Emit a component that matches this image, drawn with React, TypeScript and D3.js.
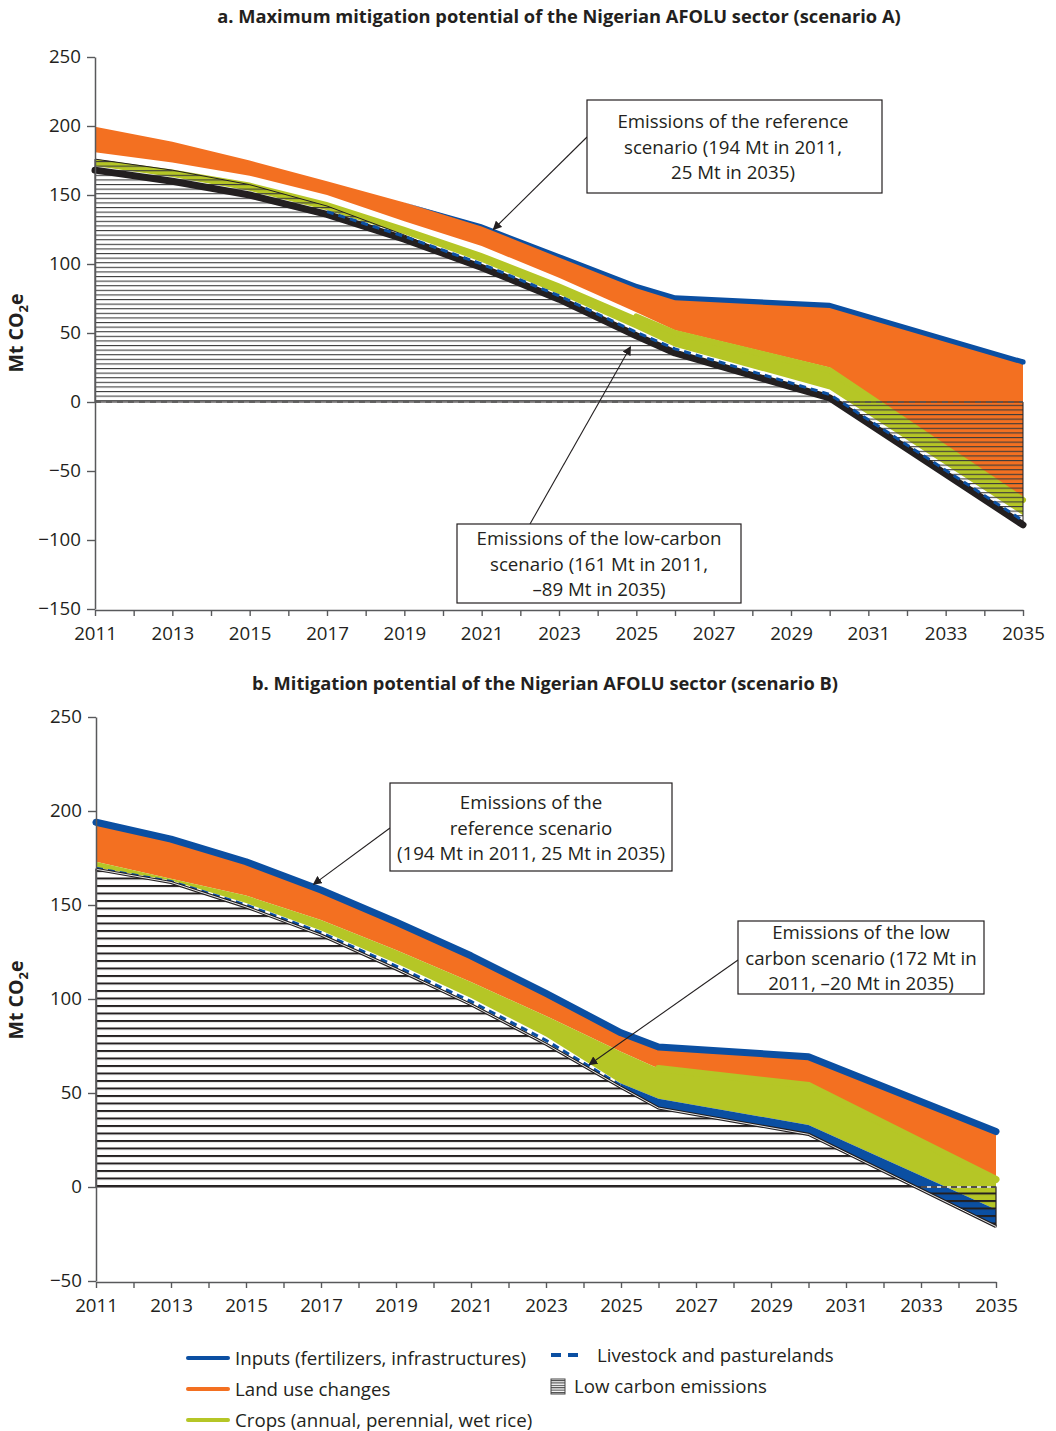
import React, { useEffect, useRef } from "react";
import * as d3 from "d3";

const years = [2011, 2013, 2015, 2017, 2019, 2021, 2023, 2025, 2026, 2030, 2035];

// scenario A (Mt CO2e)
const refA = [199.5, 188.5, 175, 160, 144.5, 128, 106, 84, 75.5, 70, 29];
const inputsA = [0, 0, 0, 0, 0, 1.5, 2.6, 3.3, 3.6, 3.8, 3.8];
const landUseBottomA = [181, 173.5, 164, 150, 131, 113, 90, 65, 52, 25, -70];
const cropsTopA = [176, 168.5, 159, 145, 127, 108, 86, 62, 50, 23, -71];
const cropsBottomA = [171, 163, 153, 139, 121.5, 101.5, 78, 53, 40, 9, -82];
const livestockA = [170, 162, 152, 138, 120, 100, 77, 50.5, 38.5, 5.5, -86];
const lowCarbonA = [168, 160, 150, 136, 118, 97.5, 74.5, 48, 35.5, 3, -89];
const hatchTopA = [176, 168, 157.5, 142, 121, 97.5, 74.5, 48, 35.5, 3, -89];

// scenario B (Mt CO2e)
const refB = [194, 185, 173, 158, 141, 123, 103, 82, 74.5, 69.3, 29.5];
const cropsTopB = [173, 164, 155, 142, 126, 109, 91, 72, 63, 54, 4];
const cropsBottomB = [170, 163, 151, 136.5, 119, 100.5, 80, 55, 47, 33, -12];
const livestockB = [169.5, 162.5, 150, 135.3, 117.5, 98.7, 78, 54, 44.5, 30.5, -16.5];
const lowCarbonB = [169, 162, 149, 134, 116, 97, 76, 53, 42, 28, -21];

const yTicksA = [-150, -100, -50, 0, 50, 100, 150, 200, 250];
const yTicksB = [-50, 0, 50, 100, 150, 200, 250];

const BLUE = "#0b4fa2";
const ORANGE = "#f37021";
const GREEN = "#b5c626";
const INK = "#231f20";
const FONT = "'Open Sans', 'Noto Sans', sans-serif";
const FS = "18.7px";

export default function App() {
  const ref = useRef(null);

  useEffect(() => {
    const svg = d3.select(ref.current);
    svg.selectAll("*").remove();

    const defs = svg.append("defs");
    const hatch = (id, h, lw, color) => {
      const p = defs
        .append("pattern")
        .attr("id", id)
        .attr("patternUnits", "userSpaceOnUse")
        .attr("width", 10)
        .attr("height", h);
      p.append("rect").attr("x", 0).attr("y", 0).attr("width", 10).attr("height", lw).attr("fill", color);
    };
    hatch("hatchA", 4.6, 1.1, "#3b3b3b");
    hatch("hatchB", 7.5, 2, INK);
    hatch("hatchL", 2.4, 1.1, "#444");

    defs
      .append("marker")
      .attr("id", "arrow")
      .attr("viewBox", "0 0 10 10")
      .attr("refX", 9)
      .attr("refY", 5)
      .attr("markerWidth", 9)
      .attr("markerHeight", 9)
      .attr("markerUnits", "userSpaceOnUse")
      .attr("orient", "auto")
      .append("path")
      .attr("d", "M0,0 L10,5 L0,10 Z")
      .attr("fill", INK);

    const idx = d3.range(years.length);

    // ---------- shared axis drawing ----------
    function axes(g, x, y, yTicks, x0, yBottom, labelY) {
      const ya = g
        .append("g")
        .attr("transform", `translate(${x0},0)`)
        .call(d3.axisLeft(y).tickValues(yTicks).tickSize(8).tickSizeOuter(0).tickPadding(6));
      const xa = g
        .append("g")
        .attr("transform", `translate(0,${yBottom})`)
        .call(
          d3
            .axisBottom(x)
            .tickValues(d3.range(2011, 2036))
            .tickSize(6)
            .tickSizeOuter(0)
            .tickPadding(11)
            .tickFormat((d) => ((d - 2011) % 2 === 0 ? String(d) : ""))
        );
      [ya, xa].forEach((a) => {
        a.select(".domain").attr("stroke", "#58595b").attr("stroke-width", 1.5);
        a.selectAll(".tick line").attr("stroke", "#58595b").attr("stroke-width", 1.4);
        a.selectAll("text").attr("fill", INK).style("font-family", FONT).style("font-size", FS);
      });

      const t = g
        .append("text")
        .attr("transform", `translate(23,${labelY}) rotate(-90)`)
        .attr("text-anchor", "middle")
        .attr("fill", INK)
        .style("font-family", FONT)
        .style("font-size", "19.5px")
        .style("font-weight", "bold");
      t.append("tspan").text("Mt CO");
      t.append("tspan").attr("dy", 5).style("font-size", "13px").text("2");
      t.append("tspan").attr("dy", -5).text("e");
    }

    function box(g, x0, y0, w, h, lines, cx, firstBase) {
      g.append("rect")
        .attr("x", x0)
        .attr("y", y0)
        .attr("width", w)
        .attr("height", h)
        .attr("fill", "white")
        .attr("stroke", INK)
        .attr("stroke-width", 1.2);
      lines.forEach((l, i) => {
        g.append("text")
          .attr("x", cx)
          .attr("y", firstBase + i * 25.6)
          .attr("text-anchor", "middle")
          .attr("fill", INK)
          .style("font-family", FONT)
          .style("font-size", FS)
          .text(l);
      });
    }

    function arrow(g, x1, y1, x2, y2) {
      g.append("line")
        .attr("x1", x1)
        .attr("y1", y1)
        .attr("x2", x2)
        .attr("y2", y2)
        .attr("stroke", INK)
        .attr("stroke-width", 1.1)
        .attr("marker-end", "url(#arrow)");
    }

    function title(text, cx, yb) {
      svg
        .append("text")
        .attr("x", cx)
        .attr("y", yb)
        .attr("text-anchor", "middle")
        .attr("fill", INK)
        .style("font-family", FONT)
        .style("font-size", "18.3px")
        .style("font-weight", "bold")
        .text(text);
    }

    // ================= PANEL A =================
    const xA = d3.scaleLinear().domain([2011, 2035]).range([95, 1023]);
    const yA = d3.scaleLinear().domain([-150, 250]).range([609, 57]);
    const gA = svg.append("g");
    const px = (i) => xA(years[i]);

    const areaA = (top, bot, def = () => true) =>
      d3.area().defined(def).x(px).y0((i) => yA(bot[i])).y1((i) => yA(top[i]));
    const lineA = (vals, def = () => true) => d3.line().defined(def).x(px).y((i) => yA(vals[i]));

    gA.append("path").attr("d", areaA(refA, landUseBottomA)(idx)).attr("fill", ORANGE);
    gA.append("path").attr("d", areaA(cropsTopA, cropsBottomA)(idx)).attr("fill", GREEN);
    gA.append("path")
      .attr("d", lineA(cropsTopA, (i) => i >= 7)(idx))
      .attr("fill", "none")
      .attr("stroke", GREEN)
      .attr("stroke-width", 6)
      .attr("stroke-linecap", "round");
    // hatched low carbon emissions
    const zeroA = years.map(() => 0);
    gA.append("path")
      .attr("d", areaA(hatchTopA, zeroA)(idx))
      .attr("fill", "url(#hatchA)")
      .attr("stroke", INK)
      .attr("stroke-width", 1);
    gA.append("line")
      .attr("x1", xA(2011))
      .attr("x2", xA(2035))
      .attr("y1", yA(0))
      .attr("y2", yA(0))
      .attr("stroke", "#555")
      .attr("stroke-width", 1.3)
      .attr("stroke-dasharray", "6 5");
    gA.append("path")
      .attr("d", lineA(lowCarbonA)(idx))
      .attr("fill", "none")
      .attr("stroke", INK)
      .attr("stroke-width", 7)
      .attr("stroke-linecap", "round")
      .attr("stroke-linejoin", "round");
    gA.append("path")
      .attr("d", lineA(livestockA, (i) => i >= 3)(idx))
      .attr("fill", "none")
      .attr("stroke", BLUE)
      .attr("stroke-width", 3)
      .attr("stroke-dasharray", "7 5");
    // inputs: thin blue band on the reference curve
    gA.append("path")
      .attr(
        "d",
        d3
          .area()
          .defined((i) => i >= 4)
          .x(px)
          .y0((i) => yA(refA[i]) + inputsA[i] * 0.69)
          .y1((i) => yA(refA[i]) - inputsA[i] * 0.69)(idx)
      )
      .attr("fill", BLUE);
    gA.append("circle")
      .attr("cx", xA(2035))
      .attr("cy", yA(refA[refA.length - 1]))
      .attr("r", inputsA[inputsA.length - 1] * 0.69)
      .attr("fill", BLUE);

    axes(gA, xA, yA, yTicksA, 95, 610, 333);
    title("a. Maximum mitigation potential of the Nigerian AFOLU sector (scenario A)", 559, 23);

    arrow(gA, 587, 137, xA(2021.3), yA(125));
    box(gA, 587, 100, 295, 93, ["Emissions of the reference", "scenario (194 Mt in 2011,", "25 Mt in 2035)"], 733, 128);
    arrow(gA, 530, 524, xA(2024.85), yA(40));
    box(gA, 457, 524, 284, 79, ["Emissions of the low-carbon", "scenario (161 Mt in 2011,", "\u201389 Mt in 2035)"], 599, 545);

    // ================= PANEL B =================
    const xB = d3.scaleLinear().domain([2011, 2035]).range([96, 996]);
    const yB = d3.scaleLinear().domain([-50, 250]).range([1281, 717]);
    const gB = svg.append("g");
    const pxB = (i) => xB(years[i]);
    const areaB = (top, bot, def = () => true) =>
      d3.area().defined(def).x(pxB).y0((i) => yB(bot[i])).y1((i) => yB(top[i]));
    const lineB = (vals, def = () => true) => d3.line().defined(def).x(pxB).y((i) => yB(vals[i]));

    gB.append("path").attr("d", areaB(refB, cropsTopB)(idx)).attr("fill", ORANGE);
    gB.append("path").attr("d", areaB(cropsTopB, cropsBottomB)(idx)).attr("fill", GREEN);
    gB.append("path")
      .attr("d", lineB(cropsTopB, (i) => i >= 8)(idx))
      .attr("fill", "none")
      .attr("stroke", GREEN)
      .attr("stroke-width", 7)
      .attr("stroke-linecap", "round");
    gB.append("path").attr("d", areaB(cropsBottomB, lowCarbonB, (i) => i >= 7)(idx)).attr("fill", BLUE);
    gB.append("path")
      .attr("d", lineB(livestockB, (i) => i <= 8)(idx))
      .attr("fill", "none")
      .attr("stroke", BLUE)
      .attr("stroke-width", 3)
      .attr("stroke-dasharray", "7 5");

    const zeroB = years.map(() => 0);
    gB.append("path")
      .attr("d", areaB(lowCarbonB, zeroB)(idx))
      .attr("fill", "url(#hatchB)")
      .attr("stroke", INK)
      .attr("stroke-width", 1.2);
    gB.append("line")
      .attr("x1", xB(2033))
      .attr("x2", xB(2035))
      .attr("y1", yB(0))
      .attr("y2", yB(0))
      .attr("stroke", "white")
      .attr("stroke-width", 1.6);
    gB.append("line")
      .attr("x1", xB(2033))
      .attr("x2", xB(2035))
      .attr("y1", yB(0))
      .attr("y2", yB(0))
      .attr("stroke", INK)
      .attr("stroke-width", 1.4)
      .attr("stroke-dasharray", "6 4");
    gB.append("path")
      .attr("d", lineB(lowCarbonB)(idx))
      .attr("fill", "none")
      .attr("stroke", INK)
      .attr("stroke-width", 3.2);
    gB.append("path")
      .attr("d", lineB(lowCarbonB)(idx))
      .attr("fill", "none")
      .attr("stroke", "white")
      .attr("stroke-width", 0.9);
    gB.append("path")
      .attr("d", lineB(refB)(idx))
      .attr("fill", "none")
      .attr("stroke", BLUE)
      .attr("stroke-width", 7)
      .attr("stroke-linecap", "round")
      .attr("stroke-linejoin", "round");

    axes(gB, xB, yB, yTicksB, 96, 1282, 1000);
    title("b. Mitigation potential of the Nigerian AFOLU sector (scenario B)", 545, 690);

    arrow(gB, 390, 828, xB(2016.8), yB(161));
    box(gB, 390, 783, 282, 88, ["Emissions of the", "reference scenario", "(194 Mt in 2011, 25 Mt in 2035)"], 531, 809);
    arrow(gB, 738, 960, xB(2024.15), yB(65));
    box(gB, 738, 921, 246, 73, ["Emissions of the low", "carbon scenario (172 Mt in", "2011, \u201320 Mt in 2035)"], 861, 939);

    // ================= LEGEND =================
    const lg = svg.append("g");
    const legText = (x, y, t) =>
      lg
        .append("text")
        .attr("x", x)
        .attr("y", y)
        .attr("fill", INK)
        .style("font-family", FONT)
        .style("font-size", FS)
        .text(t);
    [
      [BLUE, "Inputs (fertilizers, infrastructures)"],
      [ORANGE, "Land use changes"],
      [GREEN, "Crops (annual, perennial, wet rice)"],
    ].forEach(([c, t], i) => {
      const yy = 1358 + i * 31;
      lg.append("line")
        .attr("x1", 188)
        .attr("x2", 228)
        .attr("y1", yy)
        .attr("y2", yy)
        .attr("stroke", c)
        .attr("stroke-width", 4)
        .attr("stroke-linecap", "round");
      legText(235, yy + 7, t);
    });
    lg.append("line")
      .attr("x1", 551)
      .attr("x2", 581)
      .attr("y1", 1355)
      .attr("y2", 1355)
      .attr("stroke", BLUE)
      .attr("stroke-width", 4)
      .attr("stroke-dasharray", "10 7");
    legText(597, 1362, "Livestock and pasturelands");
    lg.append("rect")
      .attr("x", 551)
      .attr("y", 1379)
      .attr("width", 14)
      .attr("height", 15)
      .attr("fill", "url(#hatchL)")
      .attr("stroke", "#444")
      .attr("stroke-width", 1);
    legText(574, 1393, "Low carbon emissions");
  }, []);

  return (
    <svg
      ref={ref}
      width={1056}
      height={1431}
      style={{ position: "absolute", left: 0, top: 0, background: "white" }}
    />
  );
}
